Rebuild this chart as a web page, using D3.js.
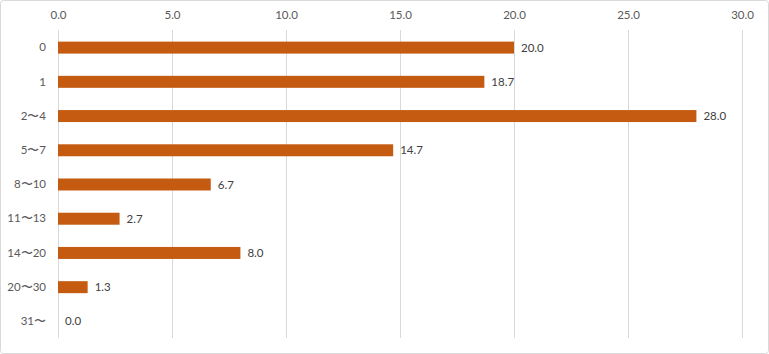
<!DOCTYPE html>
<html><head><meta charset="utf-8">
<script src="https://cdn.jsdelivr.net/npm/d3@7"></script>
<style>body{margin:0;background:#fff}svg{display:block}</style>
</head><body>
<svg id="c" width="769" height="354"></svg>
<script>
const categories = ["0","1","2〜4","5〜7","8〜10","11〜13","14〜20","20〜30","31〜"];
const values = [20.0,18.7,28.0,14.7,6.7,2.7,8.0,1.3,0.0];
const ticks = [0,5,10,15,20,25,30];

const svg = d3.select("#c");
const W=769,H=354;
svg.append("rect").attr("x",0.5).attr("y",0.5).attr("width",W-1).attr("height",H-1)
  .attr("fill","#fff").attr("stroke","#d9d9d9").attr("rx",3);
const x = d3.scaleLinear().domain([0,30]).range([58,742]);
const y = d3.scaleBand().domain(categories).range([30.5,338.5]).paddingInner(0.65).paddingOuter(0.325);
const font = "Lato, Open Sans, sans-serif";

svg.append("g").selectAll("line").data(ticks).join("line")
  .attr("x1",d=>x(d)+0.5).attr("x2",d=>x(d)+0.5).attr("y1",30).attr("y2",338)
  .attr("stroke","#d9d9d9").attr("stroke-width",1);

const xa = svg.append("g").attr("transform","translate(0,19)")
  .call(d3.axisTop(x).tickValues(ticks).tickFormat(d3.format(".1f")).tickSize(0).tickPadding(0));
xa.select(".domain").remove();
xa.selectAll("text").attr("fill","#595959").attr("font-size",11.5).attr("font-family",font);

const ya = svg.append("g").attr("transform","translate(46,0)")
  .call(d3.axisLeft(y).tickSize(0).tickPadding(0));
ya.select(".domain").remove();
ya.selectAll("text").attr("fill","#595959").attr("font-size",11.5).attr("font-family",font);

svg.selectAll("rect.bar").data(values).join("rect").attr("class","bar")
  .attr("x",x(0)).attr("y",(d,i)=>y(categories[i])).attr("width",d=>x(d)-x(0))
  .attr("height",y.bandwidth()).attr("fill","#C55A11");

svg.selectAll("text.lbl").data(values).join("text").attr("class","lbl")
  .attr("x",d=>x(d)+7).attr("y",(d,i)=>y(categories[i])+y.bandwidth()/2).attr("dy","0.35em")
  .attr("fill","#404040").attr("font-size",11.5).attr("font-family",font)
  .text(d=>d3.format(".1f")(d));
</script>
</body></html>
